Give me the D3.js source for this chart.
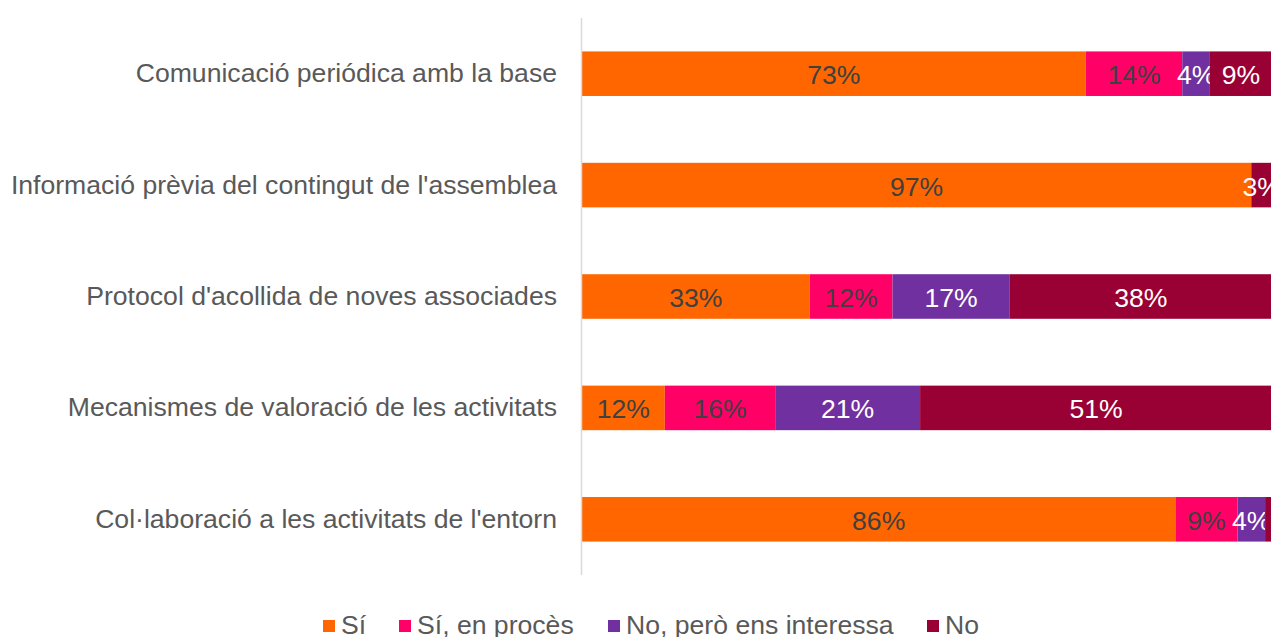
<!DOCTYPE html>
<html>
<head>
<meta charset="utf-8">
<script src="https://cdn.jsdelivr.net/npm/d3@7/dist/d3.min.js"></script>
<style>
  html, body { margin: 0; padding: 0; background: #fff; overflow: hidden; }
  svg { display: block; font-family: "Liberation Sans", Arial, sans-serif; }
</style>
</head>
<body>
<svg id="chart" width="1271" height="637"></svg>
<script>
// Categories (top to bottom)
const categories = [
  "Comunicació periódica amb la base",
  "Informació prèvia del contingut de l'assemblea",
  "Protocol d'acollida de noves associades",
  "Mecanismes de valoració de les activitats",
  "Col·laboració a les activitats de l'entorn"
];

// Series names
const seriesNames = ["Sí", "Sí, en procès", "No, però ens interessa", "No"];

// Percentage values per series, aligned with categories
const valSi        = [73, 97, 33, 12, 86];
const valSiProces  = [14, 0, 12, 16, 9];
const valInteressa = [4, 0, 17, 21, 4];
const valNo        = [9, 3, 38, 51, 1];

// Labels shown on the bars (null = not printed)
const labelsSi        = ["73%", "97%", "33%", "12%", "86%"];
const labelsSiProces  = ["14%", null, "12%", "16%", "9%"];
const labelsInteressa = ["4%", null, "17%", "21%", "4%"];
const labelsNo        = ["9%", "3%", "38%", "51%", null];

const colors = ["#FF6600", "#FF0066", "#7030A0", "#990033"];
const labelColors = ["#404040", "#404040", "#ffffff", "#ffffff"];

const FONT = 26.6;

const seriesValues = [valSi, valSiProces, valInteressa, valNo];
const seriesLabels = [labelsSi, labelsSiProces, labelsInteressa, labelsNo];

const rows = categories.map((c, i) => {
  const r = { category: c };
  seriesNames.forEach((s, k) => { r[s] = seriesValues[k][i]; });
  return r;
});

const stacked = d3.stack().keys(seriesNames)(rows);

const svg = d3.select("#chart");

const x = d3.scaleLinear().domain([0, 100]).range([582, 1272]);
const y = d3.scaleBand().domain(categories).range([18, 575])
  .paddingInner(0.6).paddingOuter(0.3);

// Stacked bars with value labels
stacked.forEach((layer, k) => {
  const g = svg.append("g");
  g.selectAll("rect")
    .data(layer)
    .join("rect")
    .attr("x", d => x(d[0]))
    .attr("y", d => y(d.data.category))
    .attr("width", d => Math.max(0, x(d[1]) - x(d[0])))
    .attr("height", y.bandwidth())
    .attr("fill", colors[k]);

  g.selectAll("text")
    .data(layer.map((d, i) => ({ d, label: seriesLabels[k][i] })).filter(o => o.label))
    .join("text")
    .attr("x", o => (x(o.d[0]) + x(o.d[1])) / 2)
    .attr("y", o => y(o.d.data.category) + y.bandwidth() / 2 + 1)
    .attr("dy", "0.36em")
    .attr("text-anchor", "middle")
    .attr("font-size", FONT)
    .attr("fill", labelColors[k])
    .text(o => o.label);
});

// Vertical category axis line
svg.append("line")
  .attr("x1", 581.5).attr("x2", 581.5)
  .attr("y1", 18).attr("y2", 575)
  .attr("stroke", "#d9d9d9").attr("stroke-width", 1.5);

// Category labels
const yAxis = d3.axisLeft(y).tickSize(0).tickPadding(24);
const ya = svg.append("g").attr("transform", "translate(581,0)").call(yAxis);
ya.select(".domain").remove();
ya.selectAll("text")
  .attr("font-family", "Liberation Sans, Arial, sans-serif")
  .attr("font-size", FONT)
  .attr("fill", "#595959");

// Legend
const legendX = [323, 399, 608, 927];
const legend = svg.append("g");
seriesNames.forEach((s, k) => {
  legend.append("rect")
    .attr("x", legendX[k]).attr("y", 620)
    .attr("width", 12).attr("height", 12)
    .attr("fill", colors[k]);
  legend.append("text")
    .attr("x", legendX[k] + 18).attr("y", 624)
    .attr("dy", "0.36em")
    .attr("font-size", FONT)
    .attr("fill", "#595959")
    .text(s);
});
</script>
</body>
</html>
